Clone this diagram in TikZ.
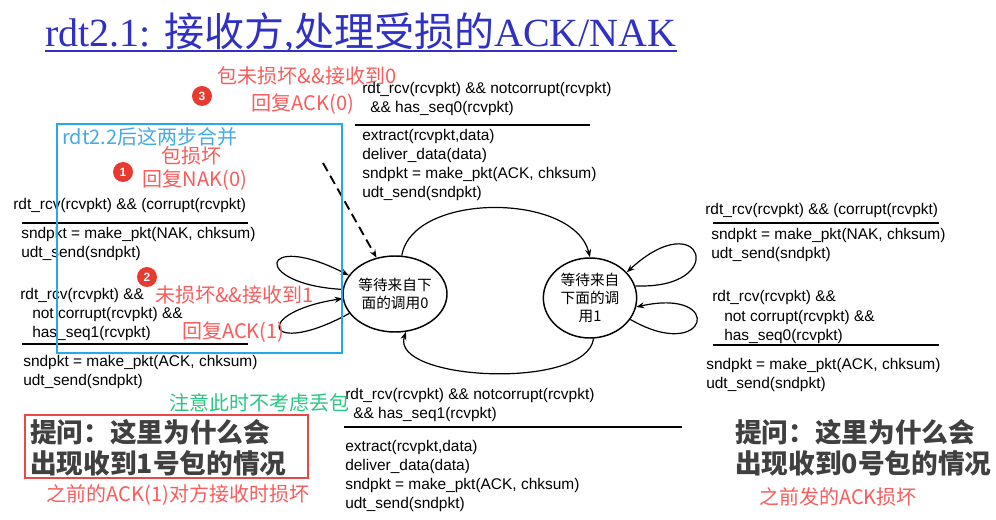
\documentclass[tikz,border=0pt]{standalone}
\usepackage{fontspec}
\setmainfont{Liberation Sans}
\newfontfamily\cjk{Noto Sans CJK SC}
\newfontfamily\titlefont{Liberation Serif}
\usepackage{xcolor}
\usetikzlibrary{shapes.geometric, arrows.meta, positioning, calc}
\definecolor{titleblue}{RGB}{48, 48, 196}
\definecolor{notered}{RGB}{250, 92, 92}
\definecolor{dotred}{RGB}{232, 58, 48}
\definecolor{boxblue}{RGB}{38, 168, 235}
\definecolor{noteblue}{RGB}{70, 170, 230}
\definecolor{notegreen}{RGB}{40, 200, 130}
\definecolor{askred}{RGB}{232, 72, 72}
\definecolor{askgray}{RGB}{64, 64, 64}

\begin{document}
\begin{tikzpicture}[x=0.75pt, y=-0.75pt,
				codetext/.style={anchor=base west, inner sep=0pt, align=left, font=\fontsize{11.6}{14.25}\selectfont},
				rulebar/.style={line width=1.6pt},
				statebox/.style={ellipse, draw, line width=1.1pt, inner sep=0pt, align=center, font=\cjk\fontsize{11}{13.5}\selectfont},
				edge/.style={-{Stealth[length=6pt,width=4.5pt]}, line width=0.9pt},
				notetext/.style={text=notered, inner sep=0pt, align=center, font=\cjk\fontsize{15}{18}\selectfont},
				stepdot/.style={circle, fill=dotred, text=white, inner sep=0pt, minimum size=15pt, font=\bfseries\fontsize{9}{9}\selectfont},
				asktext/.style={anchor=west, inner sep=0pt, align=left, text=askgray, font=\cjk\bfseries\fontsize{20}{23}\selectfont}
				]
				\path[fill=white] (0,0) rectangle (996,520);
				\useasboundingbox (0,0) rectangle (996,520);
				
				% Title
				\node[anchor=base west, inner sep=0pt, text=titleblue, font=\titlefont\fontsize{30}{34}\selectfont] (title) at (45,47) {rdt2.1: {\cjk 接收方},{\cjk 处理受损的}ACK/NAK};
				\draw[titleblue, line width=1.2pt] ([yshift=-3pt]title.base west) -- ([yshift=-3pt]title.base east);
				
				% States
				\node[statebox, minimum width=78pt, minimum height=57pt] (s0) at (395,294) {等待来自下\\面的调用0};
				\node[statebox, minimum width=70pt, minimum height=60pt] (s1) at (590,298) {等待来自\\下面的调\\用1};
				
				% Transitions between the two states
				\draw[edge] (s0.80) .. controls +(11,-64) and +(-16,-65) .. (s1.north);
				\draw[edge] (s1.275) .. controls +(-7,52) and +(-16,49) .. (s0.286);
				\draw[edge] (s0.175) .. controls +(-92,-5) and +(-90,-46) .. (s0.158);
				\draw[edge] (s0.203) .. controls +(-84,46) and +(-92,14) .. (s0.185);
				\draw[edge] (s1.15) .. controls +(95,4) and +(76,-70) .. (s1.35);
				\draw[edge] (s1.332) .. controls +(78,45) and +(90,-20) .. (s1.349);
				\coordinate (dashfrom) at (323,163);
				\draw[edge, line width=1.4pt, dash pattern=on 7pt off 4pt] (dashfrom) -- (s0.117);
				
				% Wait 0 -> wait 1 (anchored at last line)
				\node[codetext] (c01) at (362,113) {rdt\_rcv(rcvpkt) \&\& notcorrupt(rcvpkt)\\\hspace{6pt}\&\& has\_seq0(rcvpkt)};
				\draw[rulebar] (355,125) -- (590,125);
				\node[codetext] (a01) at (362,198) {extract(rcvpkt,data)\\deliver\_data(data)\\sndpkt = make\_pkt(ACK, chksum)\\udt\_send(sndpkt)};
				
				% Wait 0 self loops
				\node[codetext] (c00n) at (13,210) {rdt\_rcv(rcvpkt) \&\& (corrupt(rcvpkt)};
				\draw[rulebar] (22,223) -- (248,223);
				\node[codetext] (a00n) at (21,258) {sndpkt = make\_pkt(NAK, chksum)\\udt\_send(sndpkt)};
				\node[codetext] (c00a) at (20,338) {rdt\_rcv(rcvpkt) \&\&\\\hspace{9pt}not corrupt(rcvpkt) \&\&\\\hspace{9pt}has\_seq1(rcvpkt)};
				\draw[rulebar] (22,344) -- (248,344);
				\node[codetext] (a00a) at (23,385) {sndpkt = make\_pkt(ACK, chksum)\\udt\_send(sndpkt)};
				
				% Wait 1 self loops
				\node[codetext] (c11n) at (705,215) {rdt\_rcv(rcvpkt) \&\& (corrupt(rcvpkt)};
				\draw[rulebar] (713,223) -- (939,223);
				\node[codetext] (a11n) at (711,259) {sndpkt = make\_pkt(NAK, chksum)\\udt\_send(sndpkt)};
				\node[codetext] (c11a) at (712,340) {rdt\_rcv(rcvpkt) \&\&\\\hspace{9pt}not corrupt(rcvpkt) \&\&\\\hspace{9pt}has\_seq0(rcvpkt)};
				\draw[rulebar] (713,345) -- (939,345);
				\node[codetext] (a11a) at (706,388) {sndpkt = make\_pkt(ACK, chksum)\\udt\_send(sndpkt)};
				
				% Wait 1 -> wait 0
				\node[codetext] (c10) at (345,418) {rdt\_rcv(rcvpkt) \&\& notcorrupt(rcvpkt)\\\hspace{6pt}\&\& has\_seq1(rcvpkt)};
				\draw[rulebar] (344,427) -- (682,427);
				\node[codetext] (a10) at (345,508) {extract(rcvpkt,data)\\deliver\_data(data)\\sndpkt = make\_pkt(ACK, chksum)\\udt\_send(sndpkt)};
				
				% Red notes
				\node[stepdot] (dot3) at (202,96) {3};
				\node[notetext] (note3a) at (307,76) {包未损坏\&\&接收到0};
				\node[notetext] (note3b) at (303,104) {回复ACK(0)};
				\draw[boxblue, line width=2.2pt] (57,124) rectangle (342,353);
				\node[anchor=west, inner sep=0pt, text=noteblue, font=\cjk\fontsize{15}{18}\selectfont] (merge) at (62,137) {rdt2.2后这两步合并};
				\node[stepdot] (dot1) at (123,172) {1};
				\node[notetext] (note1a) at (191,156) {包损坏};
				\node[notetext] (note1b) at (195,180) {回复NAK(0)};
				\node[stepdot] (dot2) at (147,277) {2};
				\node[notetext, anchor=west] (note2a) at (155,295) {未损坏\&\&接收到1};
				\node[notetext, anchor=west] (note2b) at (182,332) {回复ACK(1)};
				
				% Questions
				\node[text=notegreen, inner sep=0pt, font=\cjk\fontsize{15}{18}\selectfont] (nolost) at (259,403) {注意此时不考虑丢包};
				\draw[askred, line width=2.2pt] (25,415) rectangle (308,478);
				\node[asktext] (ask1) at (30,448) {提问：这里为什么会\\出现收到1号包的情况};
				\node[notetext] (why1) at (178,495) {之前的ACK(1)对方接收时损坏};
				\node[asktext] (ask0) at (735,448) {提问：这里为什么会\\出现收到0号包的情况};
				\node[notetext] (why0) at (838,497) {之前发的ACK损坏};
			\end{tikzpicture}
\end{document}
